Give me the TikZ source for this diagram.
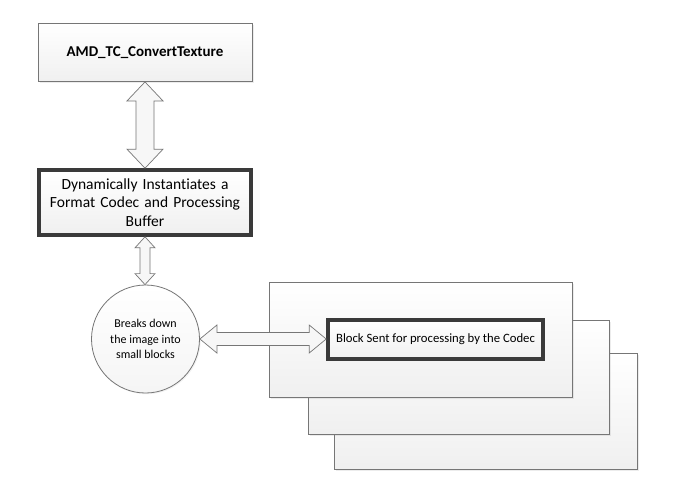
\documentclass[tikz,border=0pt]{standalone}
\usepackage{fontspec}
\setmainfont[Ligatures=CommonOff]{Carlito}
\usetikzlibrary{calc,shadows}

\definecolor{edgegray}{HTML}{767676}
\definecolor{thickedge}{HTML}{3A3A3A}

\tikzset{
  panel/.style={rectangle, draw=edgegray, line width=0.8pt,
    top color=white, bottom color=black!6,
    drop shadow={opacity=0.15, shadow xshift=1.5pt, shadow yshift=-1.5pt}},
  strongbox/.style={rectangle, draw=thickedge, line width=3.6pt,
    top color=white, bottom color=black!6, align=center,
    drop shadow={opacity=0.15, shadow xshift=1.5pt, shadow yshift=-1.5pt}},
  bubble/.style={circle, draw=edgegray, line width=0.8pt,
    top color=white, bottom color=black!4, align=center,
    drop shadow={opacity=0.10, shadow xshift=1.2pt, shadow yshift=-1.2pt}},
  hollowarrow/.style={draw=edgegray, line width=0.7pt, fill=black!3, line join=miter}
}

% vertical double-headed block arrow between two anchors
% #1 upper anchor, #2 lower anchor, #3 shaft half width, #4 head half width, #5 head length
\newcommand\vdblarrow[5]{%
  \draw[hollowarrow] let \p1=(#1), \p2=(#2) in
    (\x1,\y1) -- (\x1+#4,\y1-#5) -- (\x1+#3,\y1-#5) -- (\x1+#3,\y2+#5)
    -- (\x1+#4,\y2+#5) -- (\x1,\y2) -- (\x1-#4,\y2+#5) -- (\x1-#3,\y2+#5)
    -- (\x1-#3,\y1-#5) -- (\x1-#4,\y1-#5) -- cycle;}
% horizontal double-headed block arrow between two anchors
\newcommand\hdblarrow[5]{%
  \draw[hollowarrow] let \p1=(#1), \p2=(#2) in
    (\x1,\y1) -- (\x1+#5,\y1+#4) -- (\x1+#5,\y1+#3) -- (\x2-#5,\y1+#3)
    -- (\x2-#5,\y1+#4) -- (\x2,\y1) -- (\x2-#5,\y1-#4) -- (\x2-#5,\y1-#3)
    -- (\x1+#5,\y1-#3) -- (\x1+#5,\y1-#4) -- cycle;}

\begin{document}
\begin{tikzpicture}[x=1pt,y=-1pt]
  \useasboundingbox[fill=white] (0,0) rectangle (676,496);

  % stacked processing layers
  \node[panel, minimum width=303pt, minimum height=116pt] (layerC) at (485.5,411) {};
  \node[panel, minimum width=301pt, minimum height=114pt] (layerB) at (458.5,377) {};
  \node[panel, minimum width=303pt, minimum height=115pt] (layerA) at (420.5,339.5) {};

  \node[panel, minimum width=214pt, minimum height=58pt,
        font=\fontsize{15}{18}\selectfont\bfseries] (api) at (145,52.5) {AMD\_TC\_ConvertTexture};

  \node[strongbox, minimum width=210pt, minimum height=65pt, text width=205pt,
        font=\fontsize{15.5}{18.5}\selectfont] (codec) at (145,202.5)
        {Dynamically Instantiates a\\Format Codec and Processing\\Buffer};

  \node[bubble, minimum size=108pt, inner sep=0pt,
        font=\fontsize{12}{15.5}\selectfont] (split) at (145.5,339)
        {Breaks down\\the image into\\small blocks};

  \node[strongbox, minimum width=215pt, minimum height=39pt, inner sep=2pt,
        font=\fontsize{12.7}{15}\selectfont] (block) at (435.5,339.5)
        {Block Sent for processing by the Codec};

  % connectors
  \vdblarrow{api.south}{codec.north}{9pt}{18pt}{19pt}
  \vdblarrow{codec.south}{split.north}{5pt}{10pt}{11pt}
  \hdblarrow{split.east}{block.west}{6.5pt}{14pt}{17pt}
\end{tikzpicture}
\end{document}
